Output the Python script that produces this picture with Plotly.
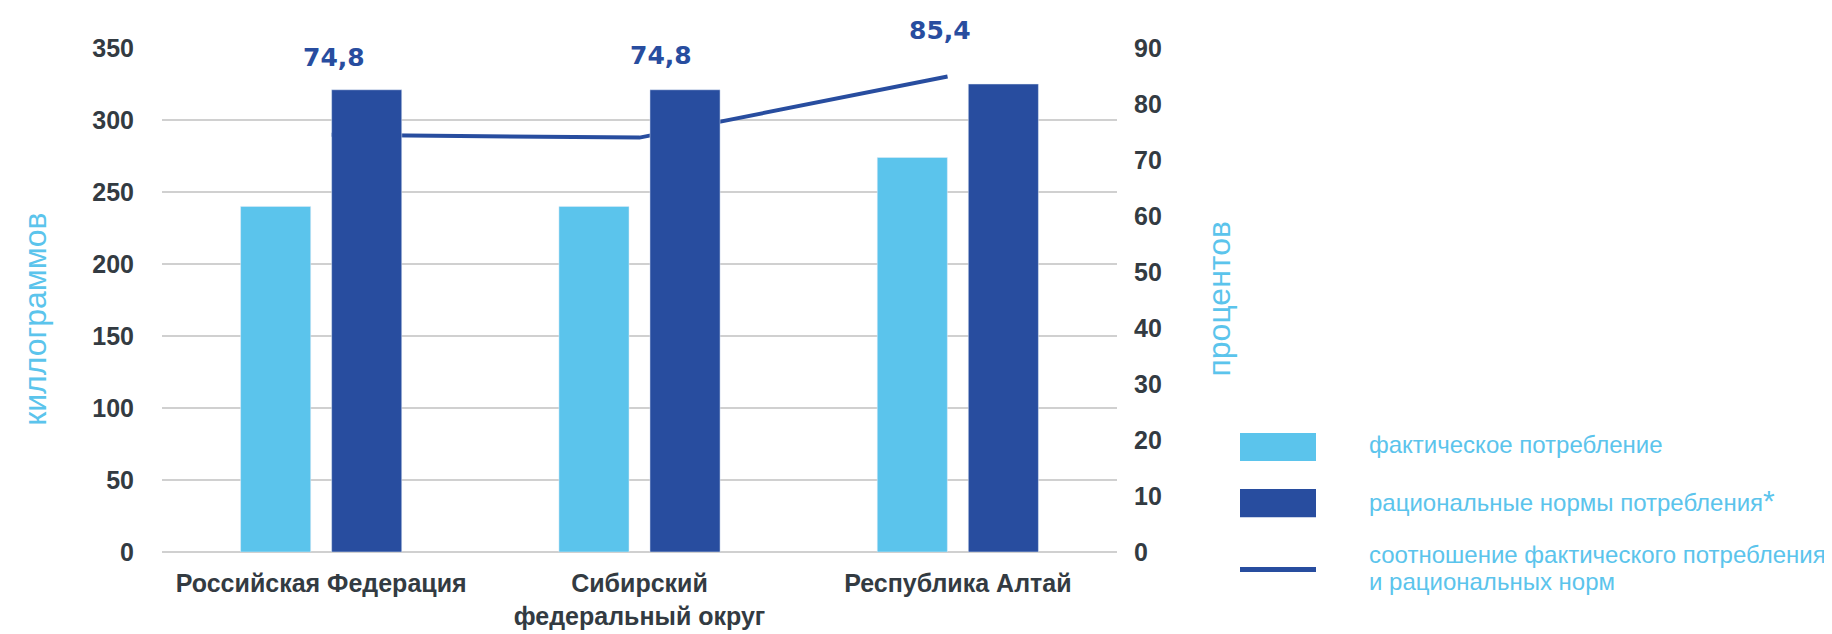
import plotly.graph_objects as go

# ---- data ----
categories = ["Российская Федерация", "Сибирский<br>федеральный округ", "Республика Алтай"]
actual_kg = [240, 240, 274]          # фактическое потребление
norm_kg = [321, 321, 325]            # рациональные нормы потребления
ratio_pct = [74.5, 74.0, 84.9]       # соотношение, % (as drawn)
ratio_labels = ["74,8", "74,8", "85,4"]

legend_lines = ["фактическое потребление",
                "рациональные нормы потребления<span style='font-size:30px'>*</span>",
                "соотношение фактического потребления",
                "и рациональных норм"]
left_title = "киллограммов"
right_title = "процентов"

# ---- style ----
W, H = 1832, 634
PL, PR, PT, PB = 154, 1109, 40, 561   # plot box in pixels
LIGHT = "#5BC4EC"
DARK = "#284D9F"
TICK = "#333B42"
GRID = "#D0D0D0"
label_shift = [(3, 77), (21, 82), (-8, 46)]
legend_text_y = [450, 508, 564, 592]

def px(x):
    return (x - PL) / (PR - PL)

def py(y):
    return (PB - y) / (PB - PT)

fig = go.Figure()

# line (drawn below the bars)
fig.add_trace(go.Scatter(x=categories, y=ratio_pct, mode="lines",
                         line=dict(color=DARK, width=4),
                         xaxis="x", yaxis="y", showlegend=False,
                         hoverinfo="skip"))
# bars
fig.add_trace(go.Bar(x=categories, y=actual_kg, marker_color=LIGHT,
                     xaxis="x2", yaxis="y2", showlegend=False))
fig.add_trace(go.Bar(x=categories, y=norm_kg, marker_color=DARK,
                     xaxis="x2", yaxis="y2", showlegend=False))

tick_font = dict(family="Liberation Sans, Arial, sans-serif", size=25, color=TICK, weight="bold")

fig.update_layout(
    width=W, height=H,
    margin=dict(l=PL, r=W - PR, t=PT, b=H - PB),
    paper_bgcolor="white", plot_bgcolor="white",
    barmode="group", bargap=0.428, bargroupgap=0.23,
    showlegend=False,
    xaxis=dict(type="category", range=[-0.55, 2.55], visible=False,
               showgrid=False),
    xaxis2=dict(type="category", overlaying="x", side="bottom",
                range=[-0.5, 2.5], showgrid=False, showline=False,
                zeroline=False, ticks="", tickfont=tick_font,
                ticklabelstandoff=14),
    yaxis=dict(side="right", range=[0, 90], dtick=10, showgrid=False,
               zeroline=False, showline=False, ticks="",
               tickfont=tick_font, ticklabelstandoff=16),
    yaxis2=dict(side="left", overlaying="y", range=[0, 350], dtick=50,
                showgrid=True, gridcolor=GRID, gridwidth=2,
                zeroline=True, zerolinecolor=GRID, zerolinewidth=2,
                showline=False, ticks="", tickfont=tick_font,
                ticklabelstandoff=27),
)

ann = []
for c, v, t, (dx, dy) in zip(categories, ratio_pct, ratio_labels, label_shift):
    ann.append(dict(x=c, y=v, xref="x", yref="y", text=t, showarrow=False,
                    xshift=dx, yshift=dy, xanchor="center", yanchor="middle",
                    font=dict(family="DejaVu Sans", size=25, color=DARK, weight="bold")))

title_font = dict(family="Liberation Sans, Arial, sans-serif", size=32, color=LIGHT)
ann.append(dict(x=px(27), y=py(321), xref="paper", yref="paper", text=left_title,
                textangle=-90, showarrow=False, xanchor="center", yanchor="middle",
                font=title_font))
ann.append(dict(x=px(1211), y=py(300), xref="paper", yref="paper", text=right_title,
                textangle=-90, showarrow=False, xanchor="center", yanchor="middle",
                font=title_font))

leg_font = dict(family="Liberation Sans, Arial, sans-serif", size=24, color=LIGHT)
for name, yy in zip(legend_lines, legend_text_y):
    ann.append(dict(x=px(1359), y=py(yy), xref="paper", yref="paper", text=name,
                    xanchor="left", yanchor="middle", align="left",
                    showarrow=False, font=leg_font))
fig.update_layout(annotations=ann)

shapes = [
    dict(type="rect", xref="paper", yref="paper", x0=px(1232), x1=px(1308),
         y0=py(467), y1=py(438), fillcolor=LIGHT, line=dict(width=0)),
    dict(type="rect", xref="paper", yref="paper", x0=px(1232), x1=px(1308),
         y0=py(525), y1=py(496), fillcolor=DARK, line=dict(width=0)),
    dict(type="line", xref="paper", yref="paper", x0=px(1232), x1=px(1308),
         y0=py(579), y1=py(579), line=dict(color=DARK, width=5)),
]
fig.update_layout(shapes=shapes)

fig.write_html("out.html")
